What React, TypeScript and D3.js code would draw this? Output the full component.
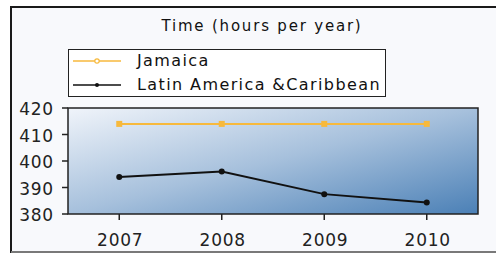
import * as d3 from "d3";

const years = ["2007", "2008", "2009", "2010"];
const jamaica = [414, 414, 414, 414];
const latinAmerica = [394, 396, 387.5, 384.3];
const yTicks = [380, 390, 400, 410, 420];
const seriesNames = ["Jamaica", "Latin America &Caribbean"];
const seriesColors = ["#f7b93c", "#111111"];

const W = 496;
const H = 254;
const plot = { left: 68, top: 108, right: 478, bottom: 214 };
const font = "'DejaVu Sans', Verdana, sans-serif";

const App = () => {
  const x = d3.scalePoint<string>().domain(years).range([plot.left, plot.right]).padding(0.5);
  const y = d3.scaleLinear().domain([380, 420]).range([plot.bottom, plot.top]);

  const line = d3
    .line<number>()
    .x((_, i) => x(years[i]) as number)
    .y((d) => y(d));

  const series = [jamaica, latinAmerica];

  return (
    <svg
      width={W}
      height={H}
      style={{ position: "absolute", left: 0, top: 0, display: "block" }}
      fontFamily={font}
    >
      <defs>
        <linearGradient id="bg" x1="0" y1="0" x2="1" y2="1">
          <stop offset="0" stopColor="#f0f4fa" />
          <stop offset="0.5" stopColor="#a6c0dc" />
          <stop offset="1" stopColor="#4b80b6" />
        </linearGradient>
      </defs>
      <rect x={0} y={0} width={W} height={H} fill="#ffffff" />
      <rect x={11} y={7} width={W + 10} height={245} fill="#f8f9fc" stroke="#1a1a1a" strokeWidth={2} />
      <line x1={11} x2={W} y1={252} y2={252} stroke="#9a9a9a" strokeWidth={1.5} />

      <text x={262} y={31} textAnchor="middle" fontSize={15} fill="#111" letterSpacing={1.8}>
        Time (hours per year)
      </text>

      {/* legend */}
      <rect x={68.5} y={49.5} width={317} height={47} fill="#ffffff" stroke="#222" strokeWidth={1} />
      {seriesNames.map((name, i) => {
        const ly = 61 + i * 24;
        return (
          <g key={name}>
            <line x1={73} x2={121} y1={ly} y2={ly} stroke={seriesColors[i]} strokeWidth={1.5} />
            {i === 0 ? (
              <circle cx={97} cy={ly} r={2.2} fill="#fff" stroke={seriesColors[i]} strokeWidth={1.2} />
            ) : (
              <circle cx={97} cy={ly} r={2} fill={seriesColors[i]} />
            )}
            <text x={137} y={ly + 5} fontSize={16} fill="#111" letterSpacing={1.4}>
              {name}
            </text>
          </g>
        );
      })}

      {/* plot */}
      <rect
        x={plot.left}
        y={plot.top}
        width={plot.right - plot.left}
        height={plot.bottom - plot.top}
        fill="url(#bg)"
        stroke="#222"
        strokeWidth={1.5}
      />

      {yTicks.map((t) => (
        <g key={t}>
          <line x1={plot.left - 6} x2={plot.left} y1={y(t)} y2={y(t)} stroke="#222" strokeWidth={1.5} />
          <text x={plot.left - 14} y={y(t) + 7} textAnchor="end" fontSize={17} fill="#222" letterSpacing={0.8}>
            {t}
          </text>
        </g>
      ))}

      {years.map((yr) => (
        <g key={yr}>
          <line
            x1={x(yr)}
            x2={x(yr)}
            y1={plot.bottom}
            y2={plot.bottom + 6}
            stroke="#222"
            strokeWidth={1.5}
          />
          <text x={(x(yr) as number) + 1} y={plot.bottom + 32} textAnchor="middle" fontSize={17} fill="#222" letterSpacing={0.8}>
            {yr}
          </text>
        </g>
      ))}

      {series.map((vals, s) => (
        <g key={s}>
          <path d={line(vals) || ""} fill="none" stroke={seriesColors[s]} strokeWidth={2} />
          {vals.map((v, i) =>
            s === 0 ? (
              <rect
                key={i}
                x={(x(years[i]) as number) - 3}
                y={y(v) - 3}
                width={6}
                height={6}
                fill={seriesColors[s]}
              />
            ) : (
              <circle key={i} cx={x(years[i])} cy={y(v)} r={3} fill={seriesColors[s]} />
            )
          )}
        </g>
      ))}
    </svg>
  );
};

export default App;
